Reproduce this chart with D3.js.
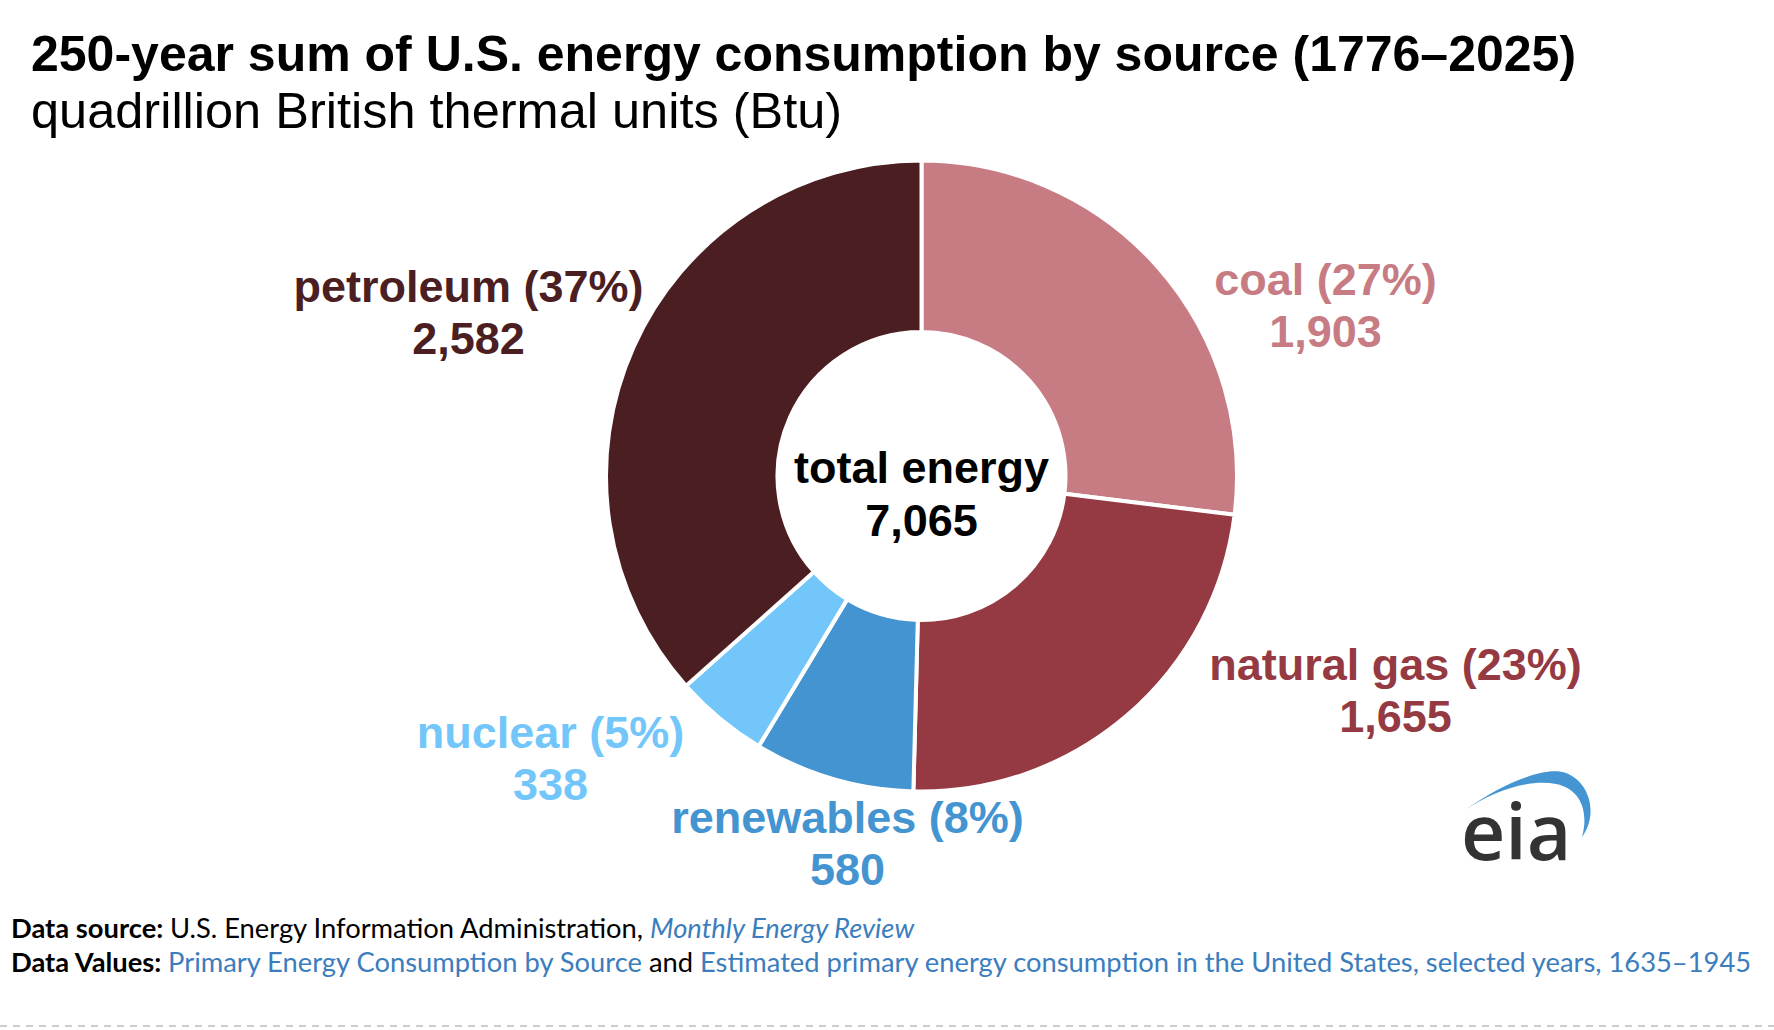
<!DOCTYPE html>
<html>
<head>
<meta charset="utf-8">
<script src="https://cdn.jsdelivr.net/npm/d3@7"></script>
<style>
  html, body { margin: 0; padding: 0; background: #fff; }
  svg { display: block; }
</style>
</head>
<body>
<div id="chart"></div>
<script>
// energy sources, clockwise from 12 o'clock
const sources = ['coal', 'natural gas', 'renewables', 'nuclear', 'petroleum'];
const values = [1903, 1655, 580, 338, 2582];
const totalEnergy = 7065;
const colors = ['#c77c83', '#953a42', '#4394d0', '#73c6f9', '#4b1e22'];

// where each label sits, relative to the donut centre
const labelOffsets = [[404, -181], [474, 204], [-74, 357], [-371, 272], [-453, -174]];

const width = 1774, height = 1030;
const cx = 921.5, cy = 476;

const svg = d3.select('#chart').append('svg')
    .attr('width', width).attr('height', height);

// title
svg.append('text')
    .attr('x', 31).attr('y', 71)
    .style('font', 'bold 50px "Liberation Sans", Arial, sans-serif')
    .text('250-year sum of U.S. energy consumption by source (1776–2025)');
svg.append('text')
    .attr('x', 31).attr('y', 128)
    .style('font', '50.5px "Liberation Sans", Arial, sans-serif')
    .text('quadrillion British thermal units (Btu)');

const pie = d3.pie().sort(null).value(d => d);
const arc = d3.arc().innerRadius(144).outerRadius(315.5);

const chartGroup = svg.append('g').attr('transform', 'translate(' + cx + ',' + cy + ')');

chartGroup.selectAll('path.slice')
    .data(pie(values))
    .join('path')
    .attr('class', 'slice')
    .attr('d', arc)
    .attr('fill', (d, i) => colors[i])
    .attr('stroke', '#fff')
    .attr('stroke-width', 4)
    .attr('stroke-linejoin', 'miter');

const pct = d3.format('.0%');
const num = d3.format(',');

const labels = chartGroup.selectAll('g.label')
    .data(values)
    .join('g')
    .attr('class', 'label')
    .attr('transform', (d, i) => 'translate(' + labelOffsets[i][0] + ',' + labelOffsets[i][1] + ')')
    .style('font', 'bold 45px "Liberation Sans", Arial, sans-serif')
    .attr('fill', (d, i) => colors[i])
    .attr('text-anchor', 'middle');

labels.append('text').text((d, i) => sources[i] + ' (' + pct(d / totalEnergy) + ')');
labels.append('text').attr('y', 52).text(d => num(d));

// centre
const centre = chartGroup.append('g')
    .style('font', 'bold 45px "Liberation Sans", Arial, sans-serif')
    .attr('text-anchor', 'middle');
centre.append('text').attr('y', 7).text('total energy');
centre.append('text').attr('y', 60).text(num(totalEnergy));

// eia logo
const logo = svg.append('g');
logo.append('path')
    .attr('d', 'M1465,810 C1500,785 1545,765 1566,773 C1591,783 1598,815 1582,837 C1589,812 1581,789 1556,784 C1530,779 1495,790 1465,810 Z')
    .attr('fill', '#4495d1');
logo.append('text')
    .attr('x', 1461).attr('y', 860)
    .style('font', '600 77px "Open Sans", sans-serif')
    .attr('fill', '#333')
    .text('eia');

// footer
const blue = '#3b7dbd';
const foot = svg.append('g').style('font-family', 'Lato, "Open Sans", sans-serif');
const line1 = foot.append('text').attr('x', 11).attr('y', 938);
line1.append('tspan').attr('font-weight', 700).text('Data source: ');
line1.append('tspan').text('U.S. Energy Information Administration, ');
line1.append('tspan').attr('fill', blue).attr('font-style', 'italic').text('Monthly Energy Review');

const line2 = foot.append('text').attr('x', 11).attr('y', 972);
line2.append('tspan').attr('font-weight', 700).text('Data Values: ');
line2.append('tspan').attr('fill', blue).text('Primary Energy Consumption by Source');
line2.append('tspan').text(' and ');
line2.append('tspan').attr('fill', blue).text('Estimated primary energy consumption in the United States, selected years, 1635–1945');

// size the footer so the second line ends where the reference does
foot.style('font-size', '26px');
const w = line2.node().getComputedTextLength();
foot.style('font-size', (26 * 1741 / w) + 'px');

svg.append('line')
    .attr('x1', 0).attr('x2', width)
    .attr('y1', 1026).attr('y2', 1026)
    .attr('stroke', '#ccc')
    .attr('stroke-width', 2)
    .attr('stroke-dasharray', '7,6');
</script>
</body>
</html>
